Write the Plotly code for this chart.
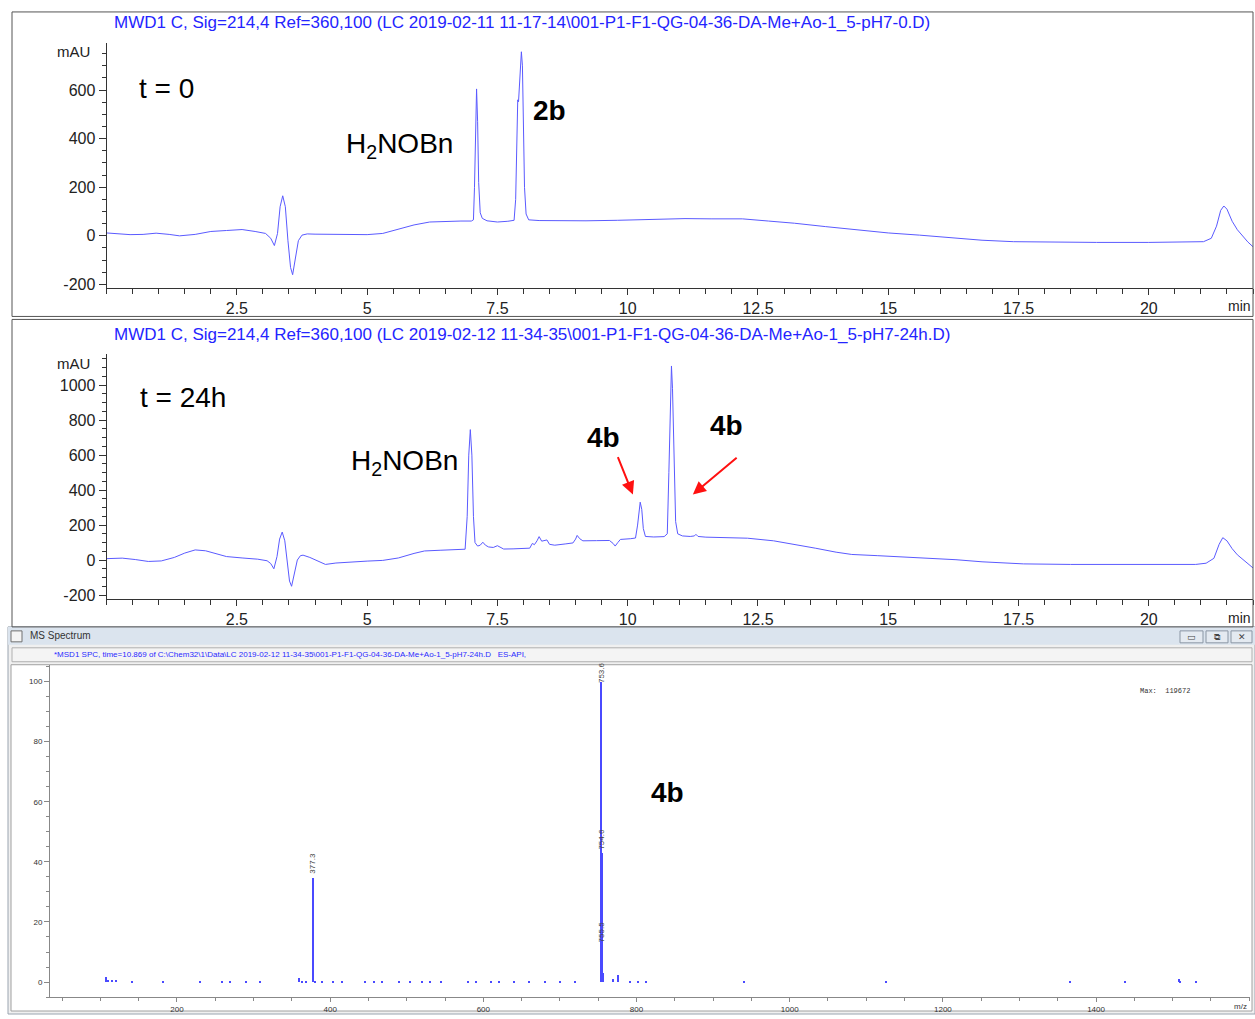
import plotly.graph_objects as go

W, H = 1255, 1019

# ---------------- data ----------------
t0_time = [0, 0.2, 0.45, 0.7, 0.95, 1.2, 1.4, 1.7, 2.0, 2.3, 2.6, 2.85, 3.05, 3.15, 3.22, 3.28, 3.33, 3.38,
           3.43, 3.48, 3.53, 3.57, 3.62, 3.68, 3.75, 3.85, 4.0, 4.5, 5.0, 5.3, 5.6, 5.9, 6.2, 6.5, 6.8, 7.0,
           7.04, 7.06, 7.08, 7.10, 7.12, 7.14, 7.17, 7.21, 7.3, 7.5, 7.7, 7.82, 7.85, 7.87, 7.89, 7.905, 7.92,
           7.94, 7.96, 7.98, 8.0, 8.02, 8.05, 8.1, 8.3, 8.7, 9.2, 9.8, 10.5, 11.1, 11.6, 12.1, 12.2, 12.7, 13.2,
           13.8, 14.4, 15.0, 15.6, 16.2, 16.8, 17.4, 18.0, 19.0, 20.0, 20.8, 21.05, 21.2, 21.3, 21.38, 21.44,
           21.5, 21.6, 21.7, 21.8, 21.9, 22.0]
t0_mau = [12, 9, 5, 6, 11, 6, 0, 6, 18, 22, 26, 18, 10, -10, -40, 10, 120, 165,
          120, -20, -130, -160, -100, -20, 3, 8, 7, 5, 5, 10, 28, 45, 57, 60, 61, 61,
          66, 200, 480, 605, 470, 220, 95, 72, 62, 57, 60, 64, 150, 330, 560, 552, 610,
          720, 758, 700, 450, 200, 90, 66, 63, 62, 62, 64, 68, 71, 70, 69, 70, 61, 52,
          38, 25, 12, 3, -8, -18, -24, -26, -27, -27, -27, -24, -10, 40, 105, 123,
          110, 60, 25, 0, -25, -45]

t24_time = [0, 0.3, 0.55, 0.8, 1.05, 1.3, 1.5, 1.7, 1.9, 2.1, 2.3, 2.6, 2.9, 3.08, 3.15, 3.21, 3.27, 3.32,
            3.37, 3.42, 3.47, 3.51, 3.55, 3.6, 3.66, 3.72, 3.77, 3.9, 4.05, 4.2, 4.4, 4.7, 5.0, 5.3, 5.6,
            5.9, 6.1, 6.4, 6.8, 6.88, 6.92, 6.95, 6.98, 7.01, 7.04, 7.07, 7.12, 7.17, 7.22, 7.27, 7.33, 7.42,
            7.5, 7.56, 7.62, 7.8, 8.0, 8.12, 8.17, 8.21, 8.26, 8.3, 8.35, 8.41, 8.45, 8.5, 8.6, 8.8, 8.95,
            9.0, 9.03, 9.08, 9.14, 9.4, 9.65, 9.72, 9.76, 9.81, 9.86, 10.05, 10.15, 10.19, 10.22, 10.24,
            10.27, 10.3, 10.34, 10.5, 10.7, 10.76, 10.79, 10.82, 10.84, 10.86, 10.89, 10.92, 10.96, 11.05,
            11.2, 11.28, 11.31, 11.35, 11.5, 11.9, 12.3, 12.8, 13.2, 13.6, 14.0, 14.3, 14.8, 15.3, 15.8,
            16.3, 16.8, 17.2, 17.6, 18.5, 19.5, 20.5, 20.9, 21.1, 21.25, 21.35, 21.42, 21.5, 21.6, 21.7,
            21.8, 21.9, 22.0]
t24_mau = [8, 11, 3, -8, -5, 15, 40, 58, 53, 35, 20, 12, 5, -4, -20, -50, 20, 120,
           160, 110, -30, -120, -150, -90, 0, 25, 28, 15, -5, -25, -17, -10, -6, -2, 12,
           38, 52, 56, 58, 62, 250, 600, 746, 600, 250, 100, 80, 85, 102, 85, 75, 72,
           82, 70, 63, 64, 65, 68, 95, 88, 110, 134, 108, 110, 115, 90, 85, 92, 98,
           120, 141, 122, 110, 111, 112, 95, 80, 100, 118, 122, 126, 200, 300, 331,
           290, 180, 135, 132, 134, 150, 500, 950, 1110, 980, 550, 220, 150, 138,
           135, 138, 147, 135, 131, 130, 125, 110, 90, 68, 45, 32, 25, 18, 10,
           2, -10, -18, -22, -25, -26, -26, -25, -18, 10, 90, 128, 110, 65, 30,
           5, -25, -45]

ms_mz = [107.4, 110, 115, 120, 141, 182, 230, 259, 270, 290, 308, 360, 363, 368, 377.3, 380, 390, 404, 416,
         445, 458, 468, 490, 505, 520, 530, 545, 580, 590, 610, 620, 640, 660, 680, 700, 720, 753.6, 754.6,
         755.5, 757, 769, 775.6, 791, 802, 813, 941, 1126, 1366, 1438, 1508, 1510, 1531]
ms_int = [1.8, 0.8, 0.9, 0.7, 0.3, 0.3, 0.3, 0.3, 0.3, 0.6, 0.3, 1.5, 0.6, 0.5, 34.8, 0.5, 0.4, 0.3, 0.3,
          0.3, 0.3, 0.5, 0.3, 0.3, 0.3, 0.3, 0.3, 0.3, 0.3, 0.3, 0.3, 0.3, 0.3, 0.3, 0.3, 0.3, 100, 43,
          12, 3, 1.2, 2.5, 0.6, 0.4, 0.3, 0.4, 0.3, 0.3, 0.3, 1.0, 0.6, 0.4]
ms_label_mz = [377.3, 753.6, 754.6, 755.5]
ms_label_y = [35.5, 99, 43.5, 12.5]
ms_label_text = ["377.3", "753.6", "754.6", "755.5"]

chrom_xticks = [2.5, 5, 7.5, 10, 12.5, 15, 17.5, 20]
chrom_xtick_text = ["2.5", "5", "7.5", "10", "12.5", "15", "17.5", "20"]
chrom1_yticks = [-200, 0, 200, 400, 600]
chrom2_yticks = [-200, 0, 200, 400, 600, 800, 1000]
ms_xticks = [200, 400, 600, 800, 1000, 1200, 1400]
ms_yticks = [0, 20, 40, 60, 80, 100]

title1 = "MWD1 C, Sig=214,4 Ref=360,100 (LC 2019-02-11 11-17-14\\001-P1-F1-QG-04-36-DA-Me+Ao-1_5-pH7-0.D)"
title2 = "MWD1 C, Sig=214,4 Ref=360,100 (LC 2019-02-12 11-34-35\\001-P1-F1-QG-04-36-DA-Me+Ao-1_5-pH7-24h.D)"
ms_header = ("*MSD1 SPC, time=10.869 of C:\\Chem32\\1\\Data\\LC 2019-02-12 11-34-35\\001-P1-F1-QG-04-36-DA-"
             "Me+Ao-1_5-pH7-24h.D&nbsp;&nbsp;&nbsp;ES-API,")

# ---------------- helpers ----------------
def X(px):
    return px / W

def Y(py):
    return 1 - py / H

FONT = "Arial, Liberation Sans, sans-serif"
TRACE_C = "#5a5aff"
AX_C = "#333333"

fig = go.Figure()
fig.add_trace(go.Scatter(x=t0_time, y=t0_mau, mode="lines", line=dict(color=TRACE_C, width=1),
                         xaxis="x", yaxis="y", showlegend=False, hoverinfo="skip"))
fig.add_trace(go.Scatter(x=t24_time, y=t24_mau, mode="lines", line=dict(color=TRACE_C, width=1),
                         xaxis="x2", yaxis="y2", showlegend=False, hoverinfo="skip"))
fig.add_trace(go.Bar(x=ms_mz, y=ms_int, width=1.6, marker=dict(color="#4a4aff", line=dict(width=0)),
                     xaxis="x3", yaxis="y3", showlegend=False, hoverinfo="skip"))

chrom_x = dict(range=[0, 22], showline=True, linecolor=AX_C, linewidth=1, ticks="outside", ticklen=6,
               tickcolor=AX_C, tickvals=chrom_xticks, ticktext=chrom_xtick_text,
               tickfont=dict(family=FONT, size=16, color="#222"), showgrid=False, zeroline=False,
               minor=dict(dtick=0.5, tick0=0, ticks="outside", ticklen=5, tickcolor=AX_C),
               domain=[X(106.6), X(1253)])

def chrom_y(rng, dom, ticks):
    return dict(range=rng, showline=True, linecolor=AX_C, linewidth=1, ticks="outside", ticklen=7,
                tickcolor=AX_C, tickvals=ticks, ticktext=[str(v) for v in ticks],
                tickfont=dict(family=FONT, size=16, color="#222"),
                showgrid=False, zeroline=False,
                minor=dict(dtick=50, tick0=0, ticks="outside", ticklen=4, tickcolor=AX_C), domain=dom)

xa1 = dict(chrom_x, anchor="y")
xa2 = dict(chrom_x, anchor="y2")
ya1 = chrom_y([-213, 795], [Y(289), Y(43)], chrom1_yticks)
ya1["anchor"] = "x"
ya2 = chrom_y([-223, 1177], [Y(602), Y(356)], chrom2_yticks)
ya2["anchor"] = "x2"

MS_C = "#888888"
xa3 = dict(range=[34.2, 1601], showline=True, linecolor=MS_C, linewidth=1, ticks="outside", ticklen=4,
           tickcolor=MS_C, tickvals=ms_xticks, tickfont=dict(family=FONT, size=8, color="#333"),
           showgrid=False, zeroline=False,
           minor=dict(dtick=50, tick0=0, ticks="outside", ticklen=3, tickcolor=MS_C),
           domain=[X(50), X(1250)], anchor="y3")
ya3 = dict(range=[-5, 105.6], showline=True, linecolor=MS_C, linewidth=1, ticks="outside", ticklen=5,
           tickcolor=MS_C, tickvals=ms_yticks, tickfont=dict(family=FONT, size=8, color="#333"),
           showgrid=False, zeroline=False,
           minor=dict(dtick=5, tick0=0, ticks="outside", ticklen=3, tickcolor=MS_C),
           domain=[Y(1002), Y(668)], anchor="x3")

shapes = []
# MS window chrome (drawn below)
shapes.append(dict(type="rect", xref="paper", yref="paper", x0=X(8), x1=X(1255), y0=Y(1019), y1=Y(630),
                   fillcolor="#f0f0f0", line=dict(color="#9aa4b0", width=1), layer="below"))
shapes.append(dict(type="rect", xref="paper", yref="paper", x0=X(8), x1=X(1255), y0=Y(648), y1=Y(630),
                   fillcolor="#dbe4ee", line=dict(width=0), layer="below"))
shapes.append(dict(type="rect", xref="paper", yref="paper", x0=X(12), x1=X(1252), y0=Y(665), y1=Y(651),
                   fillcolor="#f4f4f4", line=dict(color="#b0b0b0", width=1), layer="below"))
shapes.append(dict(type="rect", xref="paper", yref="paper", x0=X(11), x1=X(1252), y0=Y(1016), y1=Y(668),
                   fillcolor="white", line=dict(color="#a0a0a0", width=1), layer="below"))
# window icon
shapes.append(dict(type="rect", xref="paper", yref="paper", x0=X(11), x1=X(22), y0=Y(645), y1=Y(634),
                   fillcolor="#f4f4f4", line=dict(color="#707070", width=1)))
# window buttons
for bx0, bx1 in [(1180, 1203), (1206, 1228), (1231, 1252)]:
    shapes.append(dict(type="rect", xref="paper", yref="paper", x0=X(bx0), x1=X(bx1), y0=Y(646), y1=Y(634),
                       fillcolor="#e4eaf1", line=dict(color="#8a96a4", width=1)))
# chromatogram frames
shapes.append(dict(type="rect", xref="paper", yref="paper", x0=X(12), x1=X(1253), y0=Y(318), y1=Y(12),
                   line=dict(color="#555", width=1)))
shapes.append(dict(type="rect", xref="paper", yref="paper", x0=X(12), x1=X(1253), y0=Y(630), y1=Y(321),
                   line=dict(color="#555", width=1)))

big = dict(family=FONT, size=28, color="black")

ann = []
def pa(px, py, text, font, xanchor="center", yanchor="middle", **kw):
    ann.append(dict(x=X(px), y=Y(py), xref="paper", yref="paper", text=text, showarrow=False, font=font,
                    xanchor=xanchor, yanchor=yanchor, **kw))

pa(112, 23, title1, dict(family=FONT, size=17, color="#2424ff"), xanchor="left")
pa(112, 336, title2, dict(family=FONT, size=17, color="#2424ff"), xanchor="left")
pa(92, 52, "mAU", dict(family=FONT, size=15, color="#222"), xanchor="right")
pa(92, 365, "mAU", dict(family=FONT, size=15, color="#222"), xanchor="right")
pa(1253, 308, "min", dict(family=FONT, size=14, color="#222"), xanchor="right")
pa(1253, 621, "min", dict(family=FONT, size=14, color="#222"), xanchor="right")

# chart labels in data coords
def da(x, y, text, font, xr, yr):
    ann.append(dict(x=x, y=y, xref=xr, yref=yr, text=text, showarrow=False, font=font))

da(1.14, 605, "t = 0", big, "x", "y")
da(5.63, 370, "H<sub>2</sub>NOBn", big, "x", "y")
da(8.49, 516, "<b>2b</b>", dict(family=FONT, size=28, color="black"), "x", "y")
da(1.47, 932, "t = 24h", big, "x2", "y2")
da(5.71, 560, "H<sub>2</sub>NOBn", big, "x2", "y2")
da(9.53, 700, "<b>4b</b>", dict(family=FONT, size=28, color="black"), "x2", "y2")
da(11.89, 768, "<b>4b</b>", dict(family=FONT, size=28, color="black"), "x2", "y2")
da(840, 63, "<b>4b</b>", dict(family=FONT, size=28, color="black"), "x3", "y3")

# red arrows
for hx, hy, tx, ty in [(10.10, 375, 9.80, 597), (11.25, 375, 12.12, 592)]:
    ann.append(dict(x=hx, y=hy, xref="x2", yref="y2", ax=tx, ay=ty, axref="x2", ayref="y2", text="",
                    showarrow=True, arrowhead=2, arrowsize=1.3, arrowwidth=2, arrowcolor="#ff1010"))

# MS window texts
pa(28, 639, "MS Spectrum", dict(family=FONT, size=10, color="#333"), xanchor="left")
pa(52, 658, ms_header, dict(family=FONT, size=8, color="#2a2aff"), xanchor="left")
pa(1138, 694, "Max:&nbsp;&nbsp;119672", dict(family="Liberation Mono, monospace", size=7, color="#333"),
   xanchor="left")
pa(1249, 1011, "m/z", dict(family=FONT, size=8, color="#333"), xanchor="right")
pa(1191.5, 640, "▭", dict(family="DejaVu Sans", size=9, color="#444"))
pa(1217, 640, "⧉", dict(family="DejaVu Sans", size=9, color="#444"))
pa(1241.5, 640, "✕", dict(family="DejaVu Sans", size=9, color="#444"))

for mz, yv, tx in zip(ms_label_mz, ms_label_y, ms_label_text):
    ann.append(dict(x=mz, y=yv, xref="x3", yref="y3", text=tx, showarrow=False, textangle=-90,
                    font=dict(family=FONT, size=8, color="#444"), xanchor="center", yanchor="bottom"))

fig.update_layout(
    width=W, height=H, autosize=False,
    margin=dict(l=0, r=0, t=0, b=0),
    paper_bgcolor="white", plot_bgcolor="rgba(0,0,0,0)",
    xaxis=xa1, yaxis=ya1, xaxis2=xa2, yaxis2=ya2, xaxis3=xa3, yaxis3=ya3,
    shapes=shapes, annotations=ann, bargap=0, showlegend=False,
)

fig.write_html("out.html", config={"displayModeBar": False},
               post_script="document.body.style.margin='0px';document.body.style.overflow='hidden';")
